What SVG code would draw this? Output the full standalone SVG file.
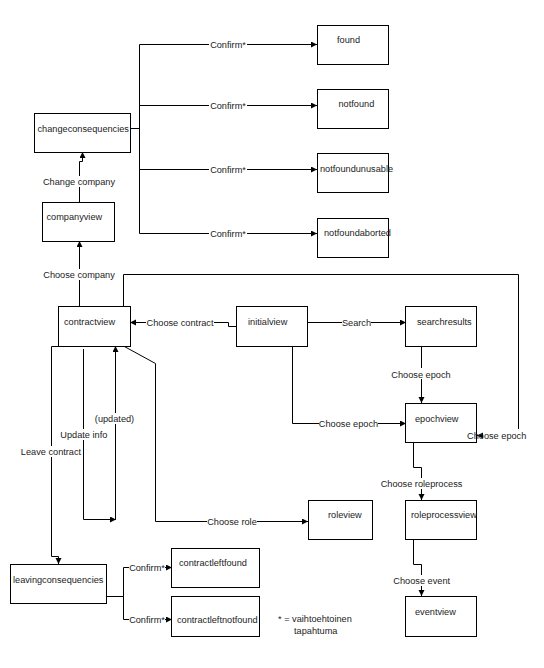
<svg xmlns="http://www.w3.org/2000/svg" width="544" height="668" viewBox="0 0 544 668">
<style>
.box{fill:#fff;stroke:#000;stroke-width:1}
.t{font-family:"Liberation Sans",Arial,sans-serif;font-size:9.2px;fill:#222}
.l{font-family:"Liberation Sans",Arial,sans-serif;font-size:9.2px;fill:#222;text-anchor:middle}
.c{fill:none;stroke:#000;stroke-width:1}
.bg{fill:#fff}
</style>
<defs>
<marker id="a" markerUnits="userSpaceOnUse" markerWidth="7" markerHeight="7" refX="6" refY="3" orient="auto">
<path d="M0,0 L6,3 L0,6 z" fill="#000"/>
</marker>
<clipPath id="clf"><rect x="172" y="596" width="87" height="40"/></clipPath>
</defs>
<rect width="544" height="668" fill="#fff"/>
<g id="connectors">
<path class="c" marker-end="url(#a)" d="M130,128.5 H139.5 V44.5 H317"/>
<path class="c" marker-end="url(#a)" d="M130,128.5 H139.5 V105.5 H317"/>
<path class="c" marker-end="url(#a)" d="M130,128.5 H139.5 V169.5 H317"/>
<path class="c" marker-end="url(#a)" d="M130,128.5 H139.5 V233.5 H317"/>
<path class="c" marker-end="url(#a)" d="M79.5,202 V161.5 H82.5 V152"/>
<path class="c" marker-end="url(#a)" d="M79.5,306 V241"/>
<path class="c" marker-end="url(#a)" d="M237,326.5 H228.5 V322.5 H130"/>
<path class="c" marker-end="url(#a)" d="M307,322.5 H406"/>
<path class="c" marker-end="url(#a)" d="M123.5,306 V274.5 H518.5 V435.5 H477"/>
<path class="c" marker-end="url(#a)" d="M421.5,346 V403"/>
<path class="c" marker-end="url(#a)" d="M292.5,346 V423.5 H406"/>
<path class="c" marker-end="url(#a)" d="M413.5,442 V467.5 H421.5 V500"/>
<path class="c" marker-end="url(#a)" d="M413.5,539 V564.5 H421.5 V596"/>
<path class="c" marker-end="url(#a)" d="M123.5,346 L155.5,363.5 V521.5 H308"/>
<path class="c" marker-end="url(#a)" d="M83.5,349 V519.5 H116"/>
<path class="c" marker-end="url(#a)" d="M115.5,519 V346"/>
<path class="c" marker-end="url(#a)" d="M58,346.5 H51.5 V556.5 H58.5 V564"/>
<path class="c" marker-end="url(#a)" d="M107,596.5 H123.5 V567.5 H172"/>
<path class="c" marker-end="url(#a)" d="M107,596.5 H123.5 V619.5 H172"/>
</g>
<g id="found"><rect class="box" x="317.5" y="25.5" width="71" height="39"/><text class="t" x="337" y="43">found</text></g>
<g id="notfound"><rect class="box" x="317.5" y="89.5" width="71" height="39"/><text class="t" x="338.5" y="106.5">notfound</text></g>
<g id="notfoundunusable"><rect class="box" x="317.5" y="153.5" width="71" height="39"/><text class="t" x="320" y="172">notfoundunusable</text></g>
<g id="notfoundaborted"><rect class="box" x="317.5" y="218.5" width="71" height="39"/><text class="t" x="324" y="236">notfoundaborted</text></g>
<g id="changeconsequencies"><rect class="box" x="34.5" y="113.5" width="96" height="39"/><text class="t" x="37.5" y="132">changeconsequencies</text></g>
<g id="companyview"><rect class="box" x="42.5" y="202.5" width="72" height="39"/><text class="t" x="46.5" y="220">companyview</text></g>
<g id="contractview"><rect class="box" x="58.5" y="306.5" width="72" height="40"/><text class="t" x="64" y="325">contractview</text></g>
<g id="initialview"><rect class="box" x="236.5" y="306.5" width="71" height="40"/><text class="t" x="248" y="325">initialview</text></g>
<g id="searchresults"><rect class="box" x="405.5" y="306.5" width="71" height="40"/><text class="t" x="417" y="325">searchresults</text></g>
<g id="epochview"><rect class="box" x="405.5" y="403.5" width="71" height="39"/><text class="t" x="415" y="422">epochview</text></g>
<g id="roleview"><rect class="box" x="308.5" y="500.5" width="64" height="39"/><text class="t" x="328" y="518">roleview</text></g>
<g id="roleprocessview"><rect class="box" x="405.5" y="500.5" width="71" height="39"/><text class="t" x="411" y="518">roleprocessview</text></g>
<g id="eventview"><rect class="box" x="405.5" y="596.5" width="71" height="40"/><text class="t" x="415" y="615">eventview</text></g>
<g id="leavingconsequencies"><rect class="box" x="10.5" y="564.5" width="96" height="39"/><text class="t" x="13" y="583">leavingconsequencies</text></g>
<g id="contractleftfound"><rect class="box" x="171.5" y="548.5" width="88" height="39"/><text class="t" x="179" y="566">contractleftfound</text></g>
<g id="contractleftnotfound"><rect class="box" x="171.5" y="596.5" width="88" height="40"/><text class="t" x="177" y="623" clip-path="url(#clf)">contractleftnotfound</text></g>
<g id="legend"><text class="t" x="278" y="622">* = vaihtoehtoinen</text><text class="t" x="294" y="634">tapahtuma</text></g>
<g id="labels">
<rect class="bg" x="209" y="39" width="38" height="11"/><text class="l" x="228" y="47.5">Confirm*</text>
<rect class="bg" x="209" y="100" width="38" height="11"/><text class="l" x="228" y="108.5">Confirm*</text>
<rect class="bg" x="209" y="164" width="38" height="11"/><text class="l" x="228" y="172.5">Confirm*</text>
<rect class="bg" x="209" y="228" width="38" height="11"/><text class="l" x="228" y="236.5">Confirm*</text>
<rect class="bg" x="42" y="176" width="74" height="11"/><text class="l" x="79" y="185">Change company</text>
<rect class="bg" x="42" y="269" width="74" height="11"/><text class="l" x="79" y="278">Choose company</text>
<rect class="bg" x="146" y="317" width="68" height="11"/><text class="l" x="180" y="325.5">Choose contract</text>
<rect class="bg" x="342" y="317" width="29" height="11"/><text class="l" x="356.5" y="325.5">Search</text>
<rect class="bg" x="483" y="429" width="43" height="11"/><text class="l" x="496.7" y="438.5">Choose epoch</text>
<rect class="bg" x="392" y="368" width="58" height="11"/><text class="l" x="421" y="377.5">Choose epoch</text>
<rect class="bg" x="319" y="418" width="59" height="11"/><text class="l" x="348.5" y="426.5">Choose epoch</text>
<rect class="bg" x="380" y="478" width="83" height="11"/><text class="l" x="421.5" y="487">Choose roleprocess</text>
<rect class="bg" x="392" y="575" width="59" height="11"/><text class="l" x="421.7" y="584">Choose event</text>
<rect class="bg" x="207" y="516" width="50" height="11"/><text class="l" x="232" y="524.5">Choose role</text>
<rect class="bg" x="59" y="429" width="49" height="11"/><text class="l" x="83.8" y="438">Update info</text>
<rect class="bg" x="95" y="413" width="39" height="11"/><text class="l" x="114.5" y="422">(updated)</text>
<rect class="bg" x="20" y="446" width="62" height="11"/><text class="l" x="51" y="455">Leave contract</text>
<rect class="bg" x="129" y="562" width="36" height="11"/><text class="l" x="147" y="571">Confirm*</text>
<rect class="bg" x="129" y="614" width="36" height="11"/><text class="l" x="147" y="622.5">Confirm*</text>
</g>
</svg>
